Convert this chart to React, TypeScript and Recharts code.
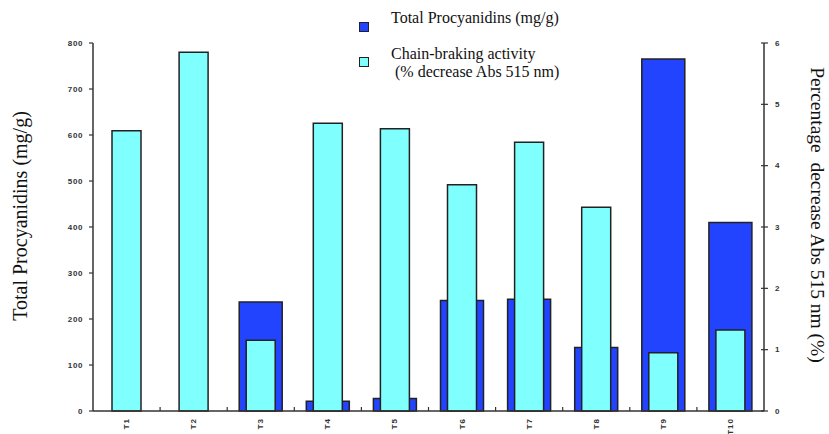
import {
  ComposedChart,
  Bar,
  XAxis,
  YAxis,
  Legend,
} from "recharts";

const categories = ["T1", "T2", "T3", "T4", "T5", "T6", "T7", "T8", "T9", "T10"];
// Total procyanidins (mg/g), left axis; T1 and T2 have no bar
const procyanidins = [null, null, 237, 21, 27, 240, 243, 138, 765, 410];
// Chain-braking activity (% decrease Abs 515 nm), right axis
const chainBreaking = [4.57, 5.85, 1.155, 4.69, 4.6, 3.69, 4.38, 3.32, 0.95, 1.32];
const leftTicks = [0, 100, 200, 300, 400, 500, 600, 700, 800];
const rightTicks = [0, 1, 2, 3, 4, 5, 6];

const data = categories.map((name, i) => ({
  name,
  procyanidins: procyanidins[i],
  chain: chainBreaking[i],
}));

const W = 829;
const H = 434;
const PLOT_LEFT = 93;
const PLOT_RIGHT = 764;
const BAND = (PLOT_RIGHT - PLOT_LEFT) / categories.length;

const DARK = "#2244ff";
const CYAN = "#80ffff";
const INK = "#222";
const serif = "'Liberation Serif', 'Times New Roman', serif";
const sans = "'Liberation Sans', Arial, sans-serif";

const tickStyle = {
  fontSize: 8,
  fontWeight: 700,
  fill: "#333",
  fontFamily: sans,
  letterSpacing: 0.6,
};

function XTick(props: any) {
  const { x, y, payload, index } = props;
  return (
    <g>
      {index < categories.length - 1 && (
        <line x1={x + BAND / 2} x2={x + BAND / 2} y1={y} y2={y - 4} stroke="#333" strokeWidth={1.2} />
      )}
      <text
        transform={`translate(${x},${y + 7}) rotate(-90)`}
        textAnchor="end"
        dominantBaseline="central"
        {...tickStyle}
        letterSpacing={1}
      >
        {payload.value}
      </text>
    </g>
  );
}

// right axis ticks cross the axis line
function RightTick(props: any) {
  const { x, y, payload } = props;
  return (
    <g>
      <line x1={x - 13} x2={x - 6} y1={y} y2={y} stroke="#333" strokeWidth={1.2} />
      <text x={x + 1} y={y} textAnchor="start" dominantBaseline="central" {...tickStyle}>
        {payload.value}
      </text>
    </g>
  );
}

function LegendBox() {
  const sq = (color: string, top: number) => (
    <div
      style={{
        position: "absolute",
        left: 359,
        top,
        width: 8,
        height: 8,
        background: color,
        border: `1px solid ${INK}`,
      }}
    />
  );
  const txt = (s: string, left: number, top: number) => (
    <div
      style={{
        position: "absolute",
        left,
        top,
        fontFamily: serif,
        fontSize: 16,
        lineHeight: "16px",
        color: "#111",
        whiteSpace: "pre",
      }}
    >
      {s}
    </div>
  );
  return (
    <div style={{ position: "relative", width: W, height: 90 }}>
      {sq(DARK, 22)}
      {txt("Total Procyanidins (mg/g)", 391, 10)}
      {sq(CYAN, 57)}
      {txt("Chain-braking activity", 391, 46)}
      {txt(" (% decrease Abs 515 nm)", 391, 64)}
    </div>
  );
}

export default function App() {
  return (
    <div style={{ position: "absolute", left: 0, top: 0, background: "#fff" }}>
      <ComposedChart
        width={W}
        height={H}
        data={data}
        margin={{ top: 43, right: 0, bottom: 0, left: 0 }}
      >
        <XAxis
          xAxisId="a"
          dataKey="name"
          height={23}
          tickLine={false}
          tickSize={0}
          tickMargin={0}
          interval={0}
          axisLine={{ stroke: "#333", strokeWidth: 1.5 }}
          tick={<XTick />}
        />
        <XAxis xAxisId="b" dataKey="name" hide />
        <YAxis
          yAxisId="left"
          width={PLOT_LEFT}
          domain={[0, 800]}
          ticks={leftTicks}
          interval={0}
          tickSize={4}
          tickMargin={6}
          tick={tickStyle}
          axisLine={{ stroke: "#333", strokeWidth: 1.5 }}
          tickLine={{ stroke: "#333", strokeWidth: 1.2 }}
          label={(p: any) => {
            const vb = p.viewBox || { y: 43, height: 368 };
            return (
              <text
                transform={`translate(20,${vb.y + vb.height / 2 - 11}) rotate(-90)`}
                textAnchor="middle"
                dominantBaseline="central"
                fontFamily={serif}
                fontSize={20}
                fill="#111"
              >
                Total Procyanidins (mg/g)
              </text>
            );
          }}
        />
        <YAxis
          yAxisId="right"
          orientation="right"
          width={W - PLOT_RIGHT}
          domain={[0, 6]}
          ticks={rightTicks}
          interval={0}
          tickSize={4}
          tickMargin={6}
          tickLine={false}
          tick={<RightTick />}
          axisLine={{ stroke: "#333", strokeWidth: 1.5 }}
          label={(p: any) => {
            const vb = p.viewBox || { y: 43, height: 368 };
            return (
              <text
                transform={`translate(817,${vb.y + vb.height / 2 - 12}) rotate(90)`}
                textAnchor="middle"
                dominantBaseline="central"
                fontFamily={serif}
                fontSize={19.5}
                fill="#111"
                style={{ whiteSpace: "pre" }}
              >
                {"Percentage  decrease Abs 515 nm (%)"}
              </text>
            );
          }}
        />
        <Legend
          layout="vertical"
          align="center"
          verticalAlign="middle"
          wrapperStyle={{ top: 0, left: 0 }}
          content={() => <LegendBox />}
        />
        <Bar
          xAxisId="a"
          yAxisId="left"
          dataKey="procyanidins"
          name="Total Procyanidins (mg/g)"
          barSize={43}
          fill={DARK}
          stroke={INK}
          strokeWidth={1.5}
          isAnimationActive={false}
        />
        <Bar
          xAxisId="b"
          yAxisId="right"
          dataKey="chain"
          name="Chain-braking activity (% decrease Abs 515 nm)"
          barSize={29}
          fill={CYAN}
          stroke={INK}
          strokeWidth={1.5}
          isAnimationActive={false}
        />
      </ComposedChart>
    </div>
  );
}
